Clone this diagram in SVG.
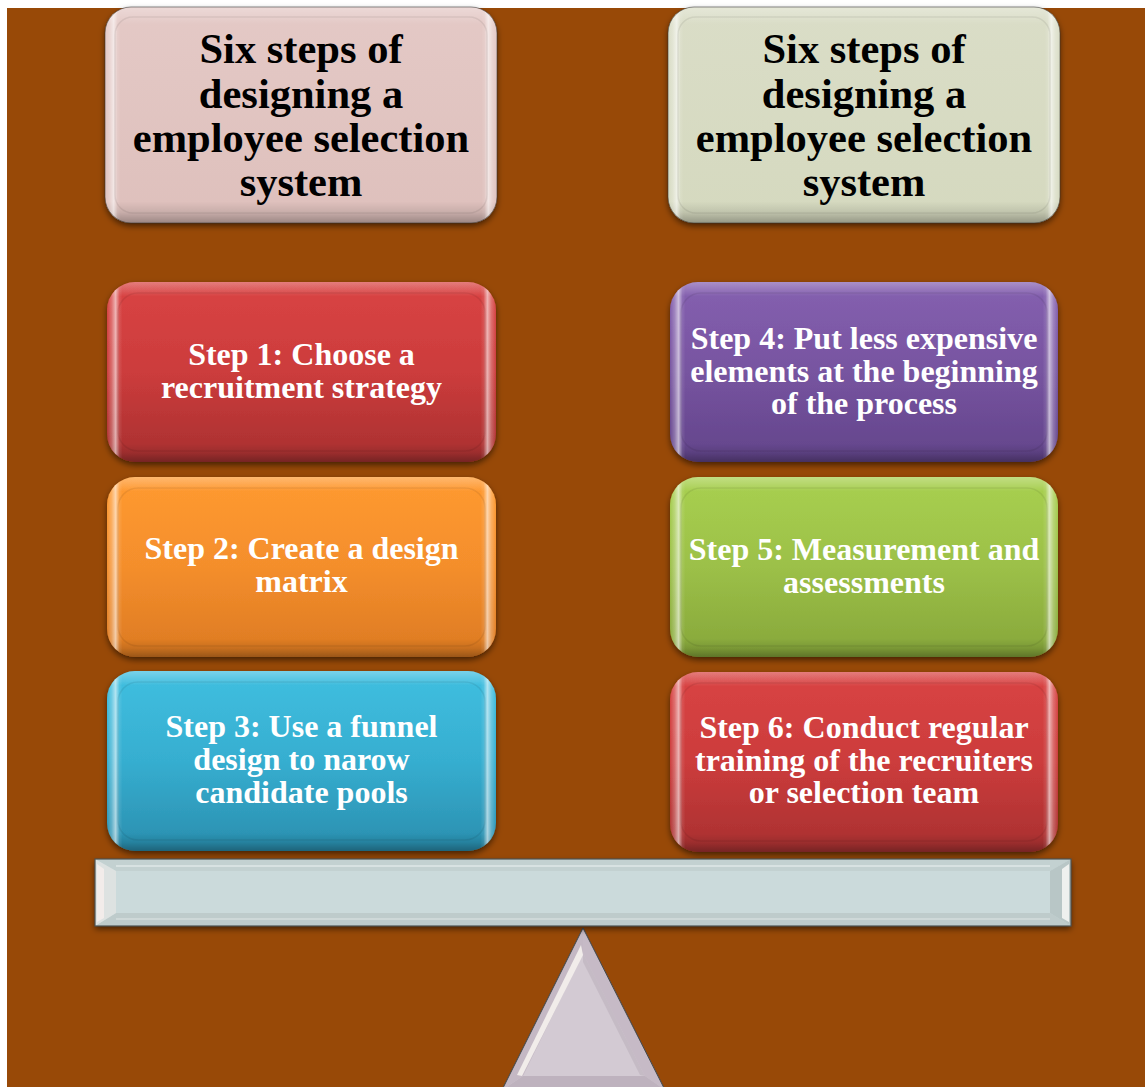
<svg xmlns="http://www.w3.org/2000/svg" width="1145" height="1087" viewBox="0 0 1145 1087">
<defs>
<style>
.hdr{font-family:"Liberation Serif","Times New Roman",serif;font-weight:bold;font-size:42.5px;fill:#000;text-anchor:middle}
.stp{font-family:"Liberation Serif","Times New Roman",serif;font-weight:bold;font-size:32px;fill:#fff;text-anchor:middle}
.shadow{filter:url(#sh)}
.hl{fill:url(#hlG)}
.vl{fill:url(#vlG)}
.inner{fill:none;stroke:#000;stroke-opacity:0.07;stroke-width:1.5}
.edge{fill:none;stroke:#333;stroke-opacity:0.55;stroke-width:1}
</style>
<filter id="sh" x="-10%" y="-10%" width="120%" height="130%">
<feDropShadow dx="0" dy="3" stdDeviation="3" flood-color="#000" flood-opacity="0.55"/>
</filter>
<linearGradient id="hlG" x1="0" y1="0" x2="1" y2="0">
<stop offset="0" stop-color="#fff" stop-opacity="0"/>
<stop offset="0.012" stop-color="#fff" stop-opacity="0.25"/>
<stop offset="0.022" stop-color="#fff" stop-opacity="0.6"/>
<stop offset="0.032" stop-color="#fff" stop-opacity="0.1"/>
<stop offset="0.04" stop-color="#fff" stop-opacity="0"/>
<stop offset="0.96" stop-color="#fff" stop-opacity="0"/>
<stop offset="0.968" stop-color="#fff" stop-opacity="0.1"/>
<stop offset="0.978" stop-color="#fff" stop-opacity="0.6"/>
<stop offset="0.988" stop-color="#fff" stop-opacity="0.25"/>
<stop offset="1" stop-color="#fff" stop-opacity="0"/>
</linearGradient>
<linearGradient id="vlG" x1="0" y1="0" x2="0" y2="1">
<stop offset="0" stop-color="#fff" stop-opacity="0.3"/>
<stop offset="0.05" stop-color="#fff" stop-opacity="0.12"/>
<stop offset="0.08" stop-color="#fff" stop-opacity="0"/>
<stop offset="0.9" stop-color="#000" stop-opacity="0"/>
<stop offset="0.95" stop-color="#000" stop-opacity="0.1"/>
<stop offset="1" stop-color="#000" stop-opacity="0.3"/>
</linearGradient>
<linearGradient id="gPink" x1="0" y1="0" x2="0" y2="1">
<stop offset="0" stop-color="#E4C9C6"/><stop offset="1" stop-color="#DEC0BC"/>
</linearGradient>
<linearGradient id="gSage" x1="0" y1="0" x2="0" y2="1">
<stop offset="0" stop-color="#DADDC7"/><stop offset="1" stop-color="#D5D9BF"/>
</linearGradient>
<linearGradient id="gRed" x1="0" y1="0" x2="0" y2="1">
<stop offset="0" stop-color="#D94444"/><stop offset="0.5" stop-color="#CC3C3C"/><stop offset="1" stop-color="#A83030"/>
</linearGradient>
<linearGradient id="gOrange" x1="0" y1="0" x2="0" y2="1">
<stop offset="0" stop-color="#FF9A30"/><stop offset="0.5" stop-color="#F48E2C"/><stop offset="1" stop-color="#DC7A22"/>
</linearGradient>
<linearGradient id="gCyan" x1="0" y1="0" x2="0" y2="1">
<stop offset="0" stop-color="#40BFE0"/><stop offset="0.5" stop-color="#36AED0"/><stop offset="1" stop-color="#2A8EAE"/>
</linearGradient>
<linearGradient id="gPurple" x1="0" y1="0" x2="0" y2="1">
<stop offset="0" stop-color="#8560B0"/><stop offset="0.5" stop-color="#7754A0"/><stop offset="1" stop-color="#62448A"/>
</linearGradient>
<linearGradient id="gGreen" x1="0" y1="0" x2="0" y2="1">
<stop offset="0" stop-color="#A8D050"/><stop offset="0.5" stop-color="#9CC048"/><stop offset="1" stop-color="#86A63A"/>
</linearGradient>
</defs>

<rect x="7" y="8" width="1138" height="1079" fill="#984907"/>

<g id="header-left">
<rect class="shadow" x="105" y="7" width="392" height="216" rx="26" fill="url(#gPink)"/>
<rect class="vl" x="105" y="7" width="392" height="216" rx="26"/>
<rect class="hl" x="105" y="7" width="392" height="216" rx="26"/>
<rect class="inner" x="115" y="17" width="372" height="196" rx="18"/>
<rect class="edge" x="105" y="7" width="392" height="216" rx="26"/>
<text class="hdr" x="301" y="63">Six steps of</text>
<text class="hdr" x="301" y="107.5">designing a</text>
<text class="hdr" x="301" y="152">employee selection</text>
<text class="hdr" x="301" y="196">system</text>
</g>

<g id="header-right">
<rect class="shadow" x="668" y="7" width="392" height="216" rx="26" fill="url(#gSage)"/>
<rect class="vl" x="668" y="7" width="392" height="216" rx="26"/>
<rect class="hl" x="668" y="7" width="392" height="216" rx="26"/>
<rect class="inner" x="678" y="17" width="372" height="196" rx="18"/>
<rect class="edge" x="668" y="7" width="392" height="216" rx="26"/>
<text class="hdr" x="864" y="63">Six steps of</text>
<text class="hdr" x="864" y="107.5">designing a</text>
<text class="hdr" x="864" y="152">employee selection</text>
<text class="hdr" x="864" y="196">system</text>
</g>

<g id="step1">
<rect class="shadow" x="107" y="282" width="389" height="180" rx="28" fill="url(#gRed)"/>
<rect class="vl" x="107" y="282" width="389" height="180" rx="28"/>
<rect class="hl" x="107" y="282" width="389" height="180" rx="28"/>
<rect class="inner" x="118" y="293" width="367" height="158" rx="20"/>
<text class="stp" x="301.5" y="364.5">Step 1: Choose a</text>
<text class="stp" x="301.5" y="397.5">recruitment strategy</text>
</g>

<g id="step2">
<rect class="shadow" x="107" y="477" width="389" height="180" rx="28" fill="url(#gOrange)"/>
<rect class="vl" x="107" y="477" width="389" height="180" rx="28"/>
<rect class="hl" x="107" y="477" width="389" height="180" rx="28"/>
<rect class="inner" x="118" y="488" width="367" height="158" rx="20"/>
<text class="stp" x="301.5" y="558.5">Step 2: Create a design</text>
<text class="stp" x="301.5" y="591.5">matrix</text>
</g>

<g id="step3">
<rect class="shadow" x="107" y="671" width="389" height="180" rx="28" fill="url(#gCyan)"/>
<rect class="vl" x="107" y="671" width="389" height="180" rx="28"/>
<rect class="hl" x="107" y="671" width="389" height="180" rx="28"/>
<rect class="inner" x="118" y="682" width="367" height="158" rx="20"/>
<text class="stp" x="301.5" y="737">Step 3: Use a funnel</text>
<text class="stp" x="301.5" y="770">design to narow</text>
<text class="stp" x="301.5" y="803">candidate pools</text>
</g>

<g id="step4">
<rect class="shadow" x="670" y="282" width="388" height="180" rx="28" fill="url(#gPurple)"/>
<rect class="vl" x="670" y="282" width="388" height="180" rx="28"/>
<rect class="hl" x="670" y="282" width="388" height="180" rx="28"/>
<rect class="inner" x="681" y="293" width="366" height="158" rx="20"/>
<text class="stp" x="864" y="349">Step 4: Put less expensive</text>
<text class="stp" x="864" y="381.5">elements at the beginning</text>
<text class="stp" x="864" y="414">of the process</text>
</g>

<g id="step5">
<rect class="shadow" x="670" y="477" width="388" height="180" rx="28" fill="url(#gGreen)"/>
<rect class="vl" x="670" y="477" width="388" height="180" rx="28"/>
<rect class="hl" x="670" y="477" width="388" height="180" rx="28"/>
<rect class="inner" x="681" y="488" width="366" height="158" rx="20"/>
<text class="stp" x="864" y="559.5">Step 5: Measurement and</text>
<text class="stp" x="864" y="592.5">assessments</text>
</g>

<g id="step6">
<rect class="shadow" x="670" y="672" width="388" height="180" rx="28" fill="url(#gRed)"/>
<rect class="vl" x="670" y="672" width="388" height="180" rx="28"/>
<rect class="hl" x="670" y="672" width="388" height="180" rx="28"/>
<rect class="inner" x="681" y="683" width="366" height="158" rx="20"/>
<text class="stp" x="864" y="738">Step 6: Conduct regular</text>
<text class="stp" x="864" y="770.5">training of the recruiters</text>
<text class="stp" x="864" y="803">or selection team</text>
</g>

<g id="fulcrum">
<polygon points="583,928 502,1090 665,1090" fill="#D3CAD3" stroke="#4A4A4A" stroke-width="1"/>
<polygon points="583,928 502,1090 523,1076 583,953" fill="#C4B8C4"/>
<polygon points="581,945 517,1075 522,1076 583,955" fill="#F1ECEA"/>
<polygon points="583,928 665,1090 645,1076 583,953" fill="#C6BAC6"/>
<polygon points="583,953 645,1076 640,1075 583,962" fill="#BCB0BC" opacity="0.6"/>
<polygon points="502,1090 665,1090 645,1076 523,1076" fill="#BEB2BE"/>
<polygon points="583,928 665,1090 502,1090" fill="none" stroke="#4A4A4A" stroke-width="1"/>
</g>

<g id="beam">
<rect class="shadow" x="95" y="859" width="976" height="67" fill="#CBDADB"/>
<polygon points="95,859 1071,859 1050,871 116,871" fill="#C3D1D1"/>
<polygon points="116,913 1050,913 1071,926 95,926" fill="#BECBCB"/>
<polygon points="95,859 116,871 116,913 95,926" fill="#DDE2E1"/>
<polygon points="97,864 104,869 104,918 97,922" fill="#F2ECEA"/>
<polygon points="1071,859 1050,871 1050,913 1071,926" fill="#B8C6C6"/>
<polygon points="1069,864 1062,869 1062,918 1069,922" fill="#EEF0EE"/>
<line x1="116" y1="866" x2="1050" y2="866" stroke="#D8E2E2" stroke-width="2"/>
<line x1="116" y1="919" x2="1050" y2="919" stroke="#CED8D8" stroke-width="2"/>
<rect x="95" y="859" width="976" height="67" fill="none" stroke="#4E5454" stroke-width="1.2"/>
</g>
</svg>
